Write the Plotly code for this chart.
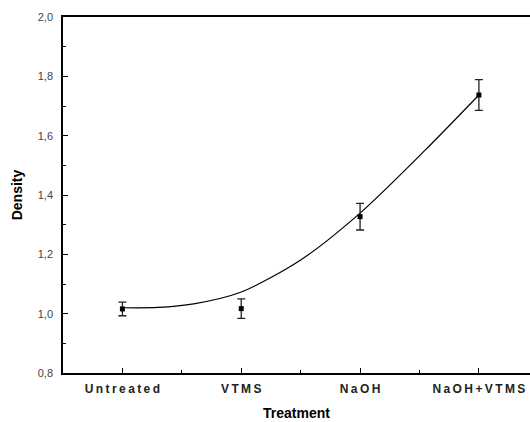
import plotly.graph_objects as go

categories = ["Untreated", "VTMS", "NaOH", "NaOH+VTMS"]
density = [1.016, 1.017, 1.327, 1.737]
density_err = [0.023, 0.033, 0.045, 0.052]

# fitted curve (x in category units)
curve_x = [0.0, 0.3, 0.6, 1.0, 1.5, 2.0, 2.55, 3.0]
curve_y = [1.02, 1.021, 1.033, 1.073, 1.181, 1.339, 1.552, 1.737]

cat_pos = list(range(len(categories)))
THIN = "\u2009"

def spaced(s):
    return THIN.join(s)

fig = go.Figure()
fig.add_trace(go.Scatter(x=curve_x, y=curve_y, mode="lines",
                         line=dict(color="black", width=1.2, shape="spline", smoothing=0.8),
                         hoverinfo="skip", showlegend=False))
fig.add_trace(go.Scatter(x=cat_pos, y=density, mode="markers",
                         marker=dict(symbol="square", size=5, color="black"),
                         error_y=dict(type="data", array=density_err, color="#222", thickness=1.3, width=4),
                         showlegend=False))

fig.update_layout(
    width=530, height=422,
    margin=dict(l=63, r=0, t=17, b=49),
    paper_bgcolor="white", plot_bgcolor="white",
    separators=",.",
    font=dict(family="Liberation Sans, Arial, sans-serif", color="black"),
)
fig.update_xaxes(
    range=[-0.5, 3.43],
    tickmode="array", tickvals=cat_pos, ticktext=[f"<b>{spaced(c)}</b>" for c in categories],
    ticks="inside", ticklen=5, tickcolor="black", tickwidth=1,
    minor=dict(tickmode="array", tickvals=[0.5, 1.5, 2.5], ticks="inside", ticklen=3, tickcolor="black"),
    showline=True, linecolor="black", linewidth=1.5, mirror=True,
    showgrid=False, zeroline=False,
    ticklabelstandoff=4,
    tickfont=dict(size=12, color="#222"),
    title=dict(text="<b>Treatment</b>", font=dict(size=14), standoff=13),
)
fig.update_yaxes(
    range=[0.8, 2.0], dtick=0.2, tickformat=".1f",
    ticks="inside", ticklen=5, tickcolor="black", tickwidth=1,
    minor=dict(dtick=0.1, ticks="inside", ticklen=3, tickcolor="black"),
    showline=True, linecolor="black", linewidth=1.5,
    showgrid=False, zeroline=False,
    ticklabelstandoff=6,
    tickfont=dict(size=11, color="#444"),
    title=dict(text="<b>Density</b>", font=dict(size=14), standoff=12),
)

fig.write_html("out.html")
